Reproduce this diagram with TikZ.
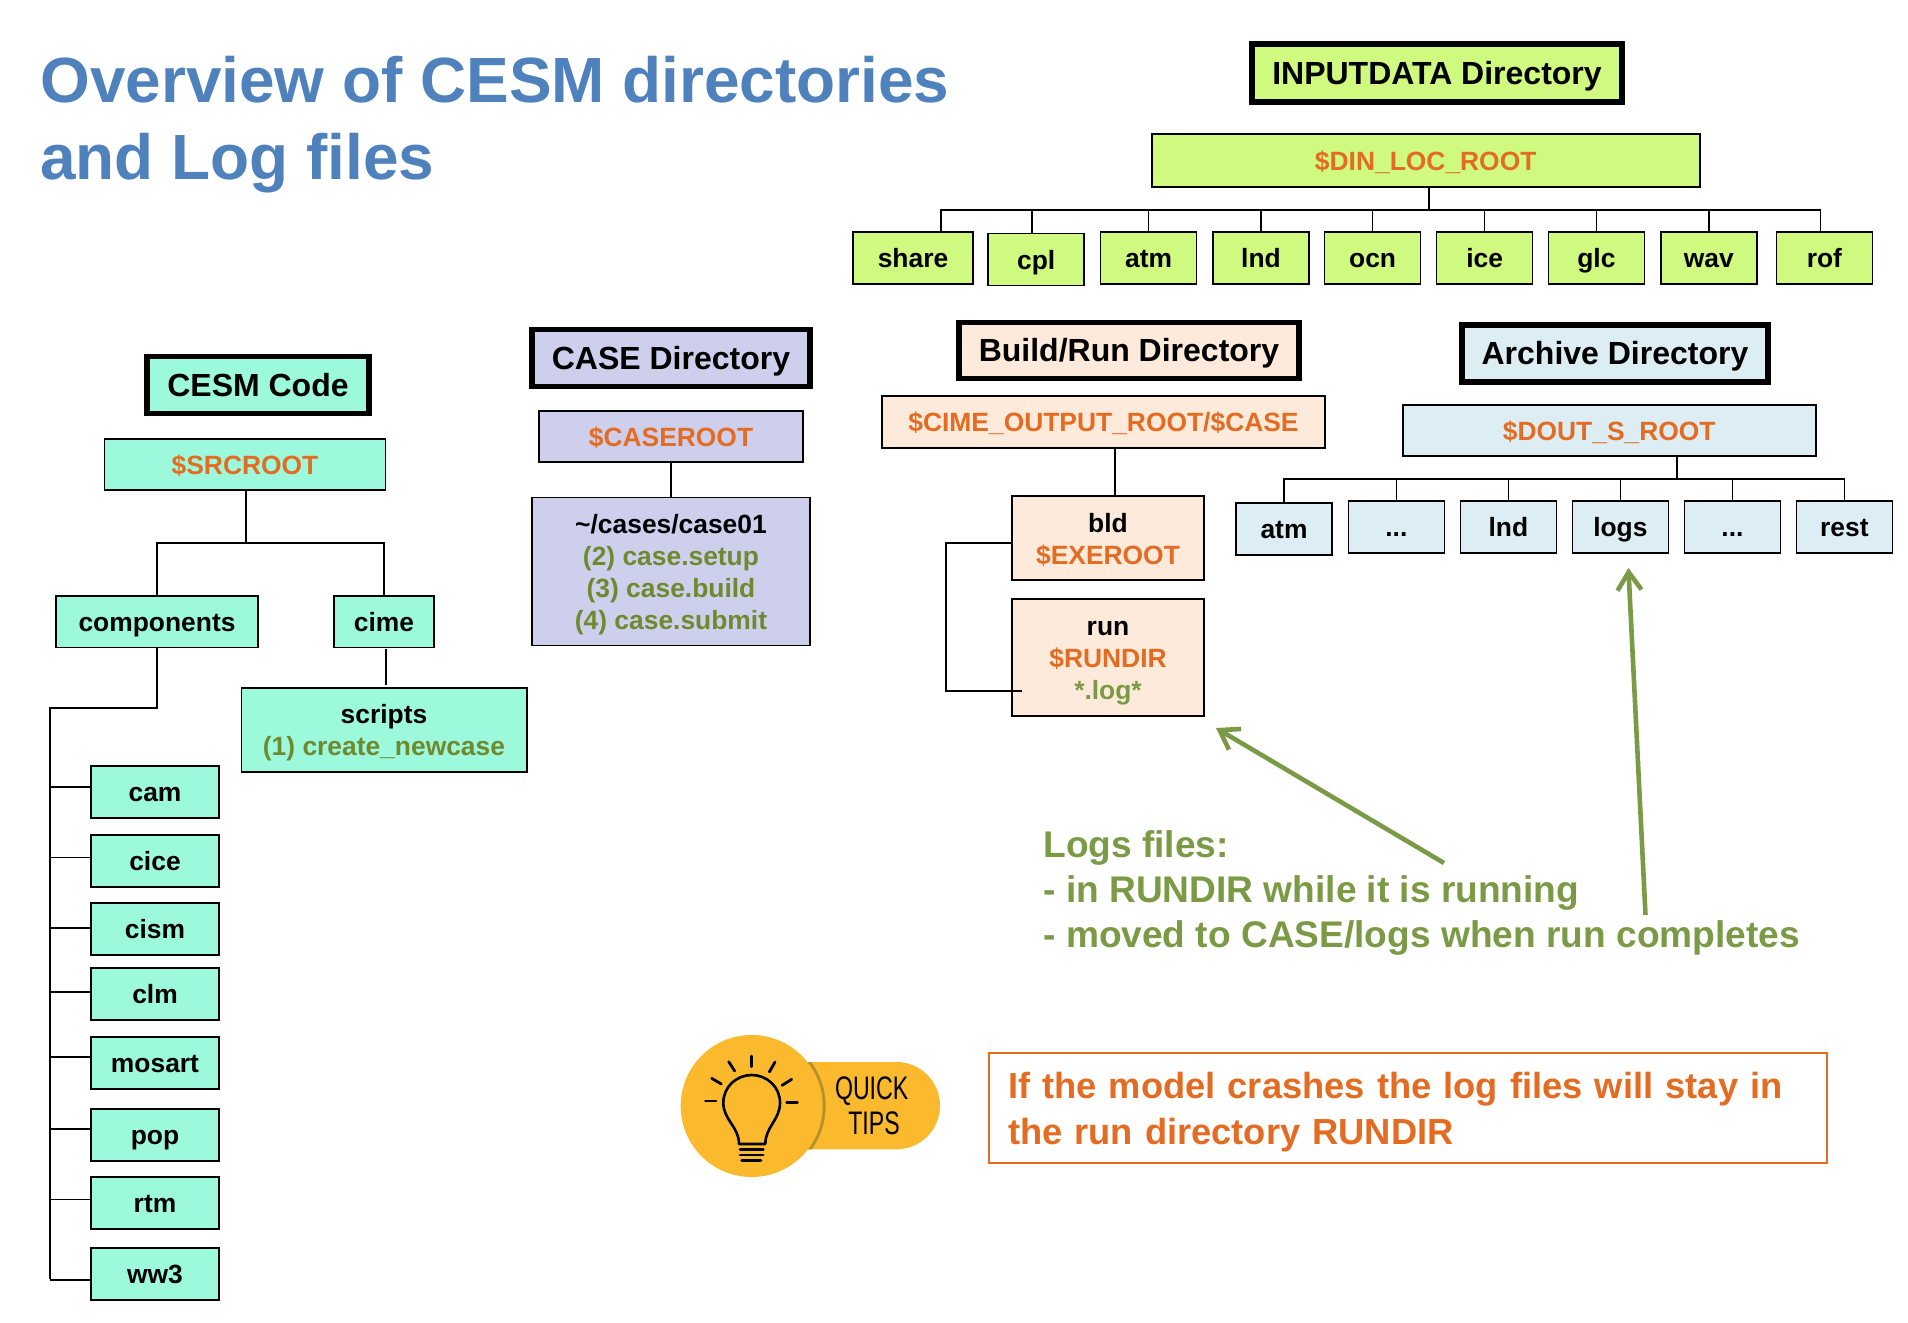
\documentclass[tikz,border=0pt]{standalone}
\usepackage{fontspec}
\setmainfont{Liberation Sans}
\usetikzlibrary{arrows.meta, positioning}

\definecolor{titleblue}{HTML}{4F81BD}
\definecolor{codefill}{HTML}{9DF9DC}
\definecolor{inputfill}{HTML}{CFF97F}
\definecolor{casefill}{HTML}{CDCFED}
\definecolor{runfill}{HTML}{FDEADA}
\definecolor{archfill}{HTML}{DCEDF4}
\definecolor{varorange}{HTML}{E46C22}
\definecolor{stepgreen}{HTML}{6F8A2E}
\definecolor{notegreen}{HTML}{7B9A45}
\definecolor{tipyellow}{HTML}{FBBA2E}
\definecolor{tipdark}{HTML}{B8902A}

\newcommand{\varname}[1]{\textcolor{varorange}{#1}}
\newcommand{\stepname}[1]{\textcolor{stepgreen}{#1}}
\newcommand{\dropline}[1]{\rule{0pt}{#1}}

\tikzset{
  box/.style={draw, rectangle, line width=0.8pt, outer sep=0pt, inner sep=0pt, align=center,
    font=\bfseries\fontsize{13.2}{16}\selectfont},
  rootbox/.style={box, text height=12pt, text depth=2.5pt},
  titlebox/.style={box, line width=2.8pt, minimum height=28.5pt, text height=14pt, text depth=2.6pt,
    font=\bfseries\fontsize{16}{18}\selectfont},
  leafbox/.style={rootbox, minimum width=48pt, minimum height=26pt},
  codeleaf/.style={rootbox, fill=codefill, minimum width=64pt, minimum height=26pt},
  dirline/.style={line width=0.8pt},
  noteline/.style={line width=2.3pt, notegreen, -{Straight Barb[length=9pt, width=12pt]}},
}

\begin{document}
\begin{tikzpicture}[x=0.5pt, y=-0.5pt]
        \useasboundingbox (0,0) rectangle (1908,1323);

        \node (title) [anchor=north west, inner sep=0pt, align=left, text=titleblue,
            font=\bfseries\fontsize{31.95}{38.5}\selectfont] at (40,55.5)
            {Overview of CESM directories\\and Log files};

        % inputdata tree
        \node (indir) [titlebox, fill=inputfill, minimum width=185pt, minimum height=29pt] at (1437,73) {INPUTDATA Directory};
        \node (din) [rootbox, fill=inputfill, minimum width=274pt, minimum height=26.5pt] at (1425.7,160.5) {\varname{\$DIN\_LOC\_ROOT}};

        \node (share) [leafbox, fill=inputfill, minimum width=60pt] at (913,258) {share};
        \node (cpl) [leafbox, fill=inputfill, right=7.6pt of share, yshift=-0.8pt] {cpl};
        \node (atmin) [leafbox, fill=inputfill, right=8.2pt of cpl, yshift=0.9pt] {atm};
        \node (lnd) [leafbox, fill=inputfill, right=8.2pt of atmin] {lnd};
        \node (ocn) [leafbox, fill=inputfill, right=7.8pt of lnd] {ocn};
        \node (ice) [leafbox, fill=inputfill, right=8pt of ocn] {ice};
        \node (glc) [leafbox, fill=inputfill, right=7.9pt of ice] {glc};
        \node (wav) [leafbox, fill=inputfill, right=8.2pt of glc] {wav};
        \node (rof) [leafbox, fill=inputfill, right=9.8pt of wav] {rof};

        \coordinate (inbus) at (1429,210);
        \draw [dirline] (inbus) -- (din.south -| inbus);
        \draw [dirline] ([xshift=14pt]share.north) |- (inbus);
        \draw [dirline] ([xshift=-2pt]rof.north) |- (inbus);
        \draw [dirline] ([xshift=-2pt]cpl.north) |- (inbus);
        \foreach \leaf in {atmin, lnd, ocn, ice, glc, wav}
            \draw [dirline] (\leaf.north) |- (inbus);

        % code tree
        \node (code) [titlebox, fill=codefill, minimum width=111pt] at (258,385) {CESM Code};
        \node (srcroot) [rootbox, fill=codefill, minimum width=140.5pt, minimum height=25.5pt] at (245,464.5) {\varname{\$SRCROOT}};
        \node (cime) [rootbox, fill=codefill, minimum width=50pt, minimum height=25.8pt] at (384,621.5) {cime};
        \node (components) [rootbox, fill=codefill, minimum width=101pt, minimum height=25.8pt, left=38pt of cime] {components};
        \node (scripts) [box, fill=codefill, minimum width=142.7pt, minimum height=42pt, below=20.2pt of cime]
            {\dropline{13pt}scripts\\\stepname{(1) create\_newcase}};

        \node (cam) [codeleaf] at (155,792) {cam};
        \node (cice) [codeleaf, below=8.5pt of cam] {cice};
        \node (cism) [codeleaf, below=8pt of cice] {cism};
        \node (clm) [codeleaf, below=6.5pt of cism] {clm};
        \node (mosart) [codeleaf, below=8.5pt of clm] {mosart};
        \node (pop) [codeleaf, below=10pt of mosart] {pop};
        \node (rtm) [codeleaf, below=8pt of pop] {rtm};
        \node (ww3) [codeleaf, below=9.5pt of rtm] {ww3};

        \coordinate (srcbus) at (246,543);
        \coordinate (comptop) at (50,708);
        \draw [dirline] (srcbus) -- (srcroot.south -| srcbus);
        \draw [dirline] (components.north) |- (srcbus);
        \draw [dirline] (cime.north) |- (srcbus);
        \draw [dirline] (components.south) |- (comptop) -- (comptop |- 0,1279);
        \draw [dirline, shorten >=1.5pt, shorten <=0.8pt] ([xshift=1pt]cime.south) -- ([xshift=1pt]scripts.north);
        \foreach \leaf/\off in {cam/2.6, cice/1.7, cism/0.5, clm/1, mosart/3, pop/3, rtm/1.8, ww3/-3}
            \draw [dirline] ([yshift=\off pt]\leaf.west) -- ([yshift=\off pt]\leaf.west -| comptop);

        % case tree
        \node (casedir) [titlebox, fill=casefill, minimum width=139pt] at (671,358) {CASE Directory};
        \node (caseroot) [rootbox, fill=casefill, minimum width=132pt, minimum height=25.5pt] at (671,436.5) {\varname{\$CASEROOT}};
        \node (casebox) [box, fill=casefill, minimum width=139pt, minimum height=74pt, below=17.8pt of caseroot]
            {\dropline{13pt}\textasciitilde/cases/case01\\\stepname{(2) case.setup}\\\stepname{(3) case.build}\\\stepname{(4) case.submit}};
        \path [dirline] (caseroot) edge (casebox);

        % build and run tree
        \node (builddir) [titlebox, fill=runfill, minimum width=170pt, minimum height=28pt] at (1129,350.5) {Build/Run Directory};
        \node (cimeroot) [rootbox, fill=runfill, minimum width=221.5pt, minimum height=26pt] at (1103.5,422) {\varname{\$CIME\_OUTPUT\_ROOT/\$CASE}};
        \node (bld) [box, fill=runfill, minimum width=96pt, minimum height=42pt] at (1108,538)
            {\dropline{11.4pt}bld\\\varname{\$EXEROOT}};
        \node (run) [box, fill=runfill, minimum width=96pt, minimum height=58.5pt, below=9.5pt of bld]
            {\dropline{12.4pt}run\\\varname{\$RUNDIR}\\\textcolor{notegreen}{*.log*}};

        \coordinate (bldelbow) at (946,543);
        \draw [dirline] ([xshift=3.5pt]bld.north) -- ([xshift=3.5pt]bld.north |- cimeroot.south);
        \draw [dirline] (bld.west |- bldelbow) -- (bldelbow) |- ([xshift=5pt, yshift=-16.75pt]run.west);

        % archive tree
        \node (archdir) [titlebox, fill=archfill, minimum width=153pt] at (1615,353.5) {Archive Directory};
        \node (dout) [rootbox, fill=archfill, minimum width=206.5pt, minimum height=25.5pt] at (1609.2,430.5) {\varname{\$DOUT\_S\_ROOT}};
        \node (atmar) [leafbox, fill=archfill] at (1284,529) {atm};
        \node (dotsa) [leafbox, fill=archfill, right=8.2pt of atmar, yshift=1pt] {...};
        \node (lndar) [leafbox, fill=archfill, right=8pt of dotsa] {lnd};
        \node (logs) [leafbox, fill=archfill, right=8pt of lndar] {logs};
        \node (dotsb) [leafbox, fill=archfill, right=8pt of logs] {...};
        \node (rest) [leafbox, fill=archfill, right=8pt of dotsb] {rest};

        \coordinate (arbus) at (1676.7,479);
        \draw [dirline] (arbus) -- (dout.south -| arbus);
        \foreach \leaf in {atmar, dotsa, lndar, logs, dotsb, rest}
            \draw [dirline] (\leaf.north) |- (arbus);

        % notes
        \coordinate (runtail) at (1444,863);
        \coordinate (runtip) at (1216,728);
        \coordinate (logstail) at (1645.5,915);
        \coordinate (logstip) at (1628.4,568);
        \draw [noteline] (runtail) -- (runtip);
        \draw [noteline] (logstail) -- (logstip);

        \node (lognote) [anchor=north west, inner sep=0pt, align=left, text=notegreen,
            font=\bfseries\fontsize{18.55}{22.5}\selectfont] at (1043,830)
            {Logs files:\\- in RUNDIR while it is running\\- moved to CASE/logs when run completes};

        \node (crash) [draw=varorange, line width=0.6pt, outer sep=0pt, inner xsep=9.5pt, inner ysep=0pt,
            text width=400pt, minimum height=55pt, align=left, text=varorange,
            font=\bfseries\fontsize{18.15}{23}\selectfont] at (1408,1108)
            {\dropline{17pt}If the model crashes the log files will stay in\\the run directory RUNDIR};

        % quick tips badge
        \begin{scope}[shift={(660,980)}, x=0.16667pt, y=-0.16667pt]
            \fill [tipyellow, rounded corners=21.8pt] (300,246) rectangle (840,508);
            \begin{scope}
                \clip [rounded corners=21.8pt] (300,246) rectangle (840,508);
                \fill [tipdark] (275,378) circle [radius=222];
            \end{scope}
            \fill [tipyellow] (275,378) circle [radius=213];
            \foreach \xa/\ya/\xb/\yb in {275/228/275/260, 206/245/224/273, 155/295/184/312, 136/363/168/363,
                                         345/246/328/276, 395/298/366/316, 380/368/412/368}
                \draw [line width=1.4pt, line cap=round] (\xa,\ya) -- (\xb,\yb);
            \draw [line width=1.3pt, line join=round] (237,492) .. controls (237,440) and (190,420) .. (190,368)
                .. controls (190,320) and (230,285) .. (275,285)
                .. controls (320,285) and (360,320) .. (360,368)
                .. controls (360,420) and (316,440) .. (316,492) -- cycle;
            \foreach \xa/\xb/\yb in {240/310/508, 240/310/525, 245/303/542}
                \draw [line width=1.3pt, line cap=round] (\xa,\yb) -- (\xb,\yb);
            \node (quick) [inner sep=0pt, font=\fontsize{16.3}{18}\selectfont] at (635,333) {\scalebox{0.71}[1]{QUICK}};
            \node (tips) [inner sep=0pt, font=\fontsize{16.3}{18}\selectfont] at (642,430) {\scalebox{0.71}[1]{TIPS}};
        \end{scope}
\end{tikzpicture}
\end{document}
